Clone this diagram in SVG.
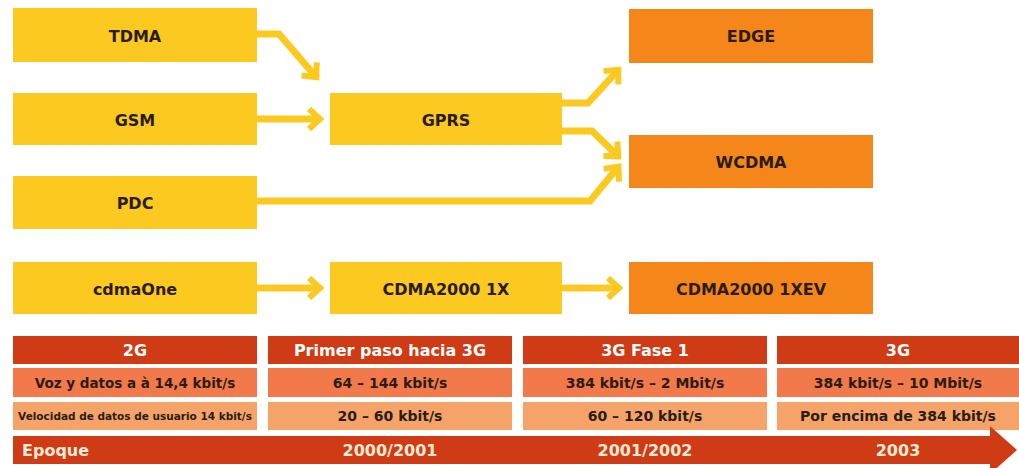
<svg xmlns="http://www.w3.org/2000/svg" width="1019" height="468" viewBox="0 0 1019 468">
<style>
.y{fill:#FCC920}
.o{fill:#F5871A}
.h{fill:#CF3B14}
.r2{fill:#F2794A}
.r3{fill:#F6A36A}
.lbl{font-family:"DejaVu Sans",sans-serif;font-weight:bold;font-size:16px;fill:#2a1c12;text-anchor:middle;dominant-baseline:central}
.th{font-family:"DejaVu Sans",sans-serif;font-weight:bold;font-size:16px;fill:#ffffff;text-anchor:middle;dominant-baseline:central}
.t2{font-family:"DejaVu Sans",sans-serif;font-weight:bold;font-size:14px;fill:#2a1c12;text-anchor:middle;dominant-baseline:central}
.ep{font-family:"DejaVu Sans",sans-serif;font-weight:bold;font-size:16px;fill:#FDEBD6;text-anchor:middle;dominant-baseline:central}
.c{fill:none;stroke:#FCC920;stroke-width:7;stroke-linejoin:miter}
</style>
<defs>
<marker id="ah" viewBox="-16 -14 20 28" refX="0" refY="0" markerWidth="20" markerHeight="28" markerUnits="userSpaceOnUse" orient="auto">
<path d="M-12,-10 L-1,0 L-12,10" fill="none" stroke="#FCC920" stroke-width="6" stroke-linejoin="miter"/>
</marker>
</defs>
<g id="connectors">
<path class="c" d="M257,34 H279 L317,78" marker-end="url(#ah)"/>
<path class="c" d="M257,119 H321" marker-end="url(#ah)"/>
<path class="c" d="M257,201 H590 L619,166" marker-end="url(#ah)"/>
<path class="c" d="M562,103 H588 L619,69" marker-end="url(#ah)"/>
<path class="c" d="M562,131 H592 L619,157" marker-end="url(#ah)"/>
<path class="c" d="M257,288 H321" marker-end="url(#ah)"/>
<path class="c" d="M562,288 H620" marker-end="url(#ah)"/>
</g>
<g id="tdma"><rect class="y" x="13" y="8" width="244" height="54"/><text class="lbl" x="135" y="36">TDMA</text></g>
<g id="gsm"><rect class="y" x="13" y="93" width="244" height="52"/><text class="lbl" x="135" y="120">GSM</text></g>
<g id="pdc"><rect class="y" x="13" y="176" width="244" height="53"/><text class="lbl" x="135" y="203">PDC</text></g>
<g id="cdmaone"><rect class="y" x="13" y="262" width="244" height="52"/><text class="lbl" x="135" y="289">cdmaOne</text></g>
<g id="gprs"><rect class="y" x="330" y="93" width="232" height="52"/><text class="lbl" x="446" y="120">GPRS</text></g>
<g id="cdma2000-1x"><rect class="y" x="330" y="262" width="232" height="52"/><text class="lbl" x="446" y="289">CDMA2000 1X</text></g>
<g id="edge"><rect class="o" x="629" y="9" width="244" height="54"/><text class="lbl" x="751" y="36">EDGE</text></g>
<g id="wcdma"><rect class="o" x="629" y="135" width="244" height="53"/><text class="lbl" x="751" y="162">WCDMA</text></g>
<g id="cdma2000-1xev"><rect class="o" x="629" y="262" width="244" height="52"/><text class="lbl" x="751" y="289">CDMA2000 1XEV</text></g>
<g id="table">
<rect class="h" x="13" y="336" width="244" height="28"/>
<rect class="h" x="268" y="336" width="244" height="28"/>
<rect class="h" x="523" y="336" width="244" height="28"/>
<rect class="h" x="777" y="336" width="242" height="28"/>
<rect class="r2" x="13" y="368" width="244" height="29"/>
<rect class="r2" x="268" y="368" width="244" height="29"/>
<rect class="r2" x="523" y="368" width="244" height="29"/>
<rect class="r2" x="777" y="368" width="242" height="29"/>
<rect class="r3" x="13" y="402" width="244" height="28"/>
<rect class="r3" x="268" y="402" width="244" height="28"/>
<rect class="r3" x="523" y="402" width="244" height="28"/>
<rect class="r3" x="777" y="402" width="242" height="28"/>
<text class="th" x="135" y="350">2G</text>
<text class="th" x="390" y="350">Primer paso hacia 3G</text>
<text class="th" x="645" y="350">3G Fase 1</text>
<text class="th" x="898" y="350">3G</text>
<text class="t2" x="135" y="383" style="font-size:13.5px">Voz y datos a à 14,4 kbit/s</text>
<text class="t2" x="390" y="383">64 – 144 kbit/s</text>
<text class="t2" x="645" y="383">384 kbit/s – 2 Mbit/s</text>
<text class="t2" x="898" y="383">384 kbit/s – 10 Mbit/s</text>
<text class="t2" x="135" y="416" style="font-size:10.5px">Velocidad de datos de usuario 14 kbit/s</text>
<text class="t2" x="390" y="416">20 – 60 kbit/s</text>
<text class="t2" x="645" y="416">60 – 120 kbit/s</text>
<text class="t2" x="898" y="416">Por encima de 384 kbit/s</text>
</g>
<g id="timeline">
<path class="h" d="M13,436 H990 V426 L1017,450 L990,474 V464 H13 Z"/>
<text class="ep" x="22" y="450" style="text-anchor:start">Epoque</text>
<text class="ep" x="390" y="450">2000/2001</text>
<text class="ep" x="645" y="450">2001/2002</text>
<text class="ep" x="898" y="450">2003</text>
</g>
</svg>
